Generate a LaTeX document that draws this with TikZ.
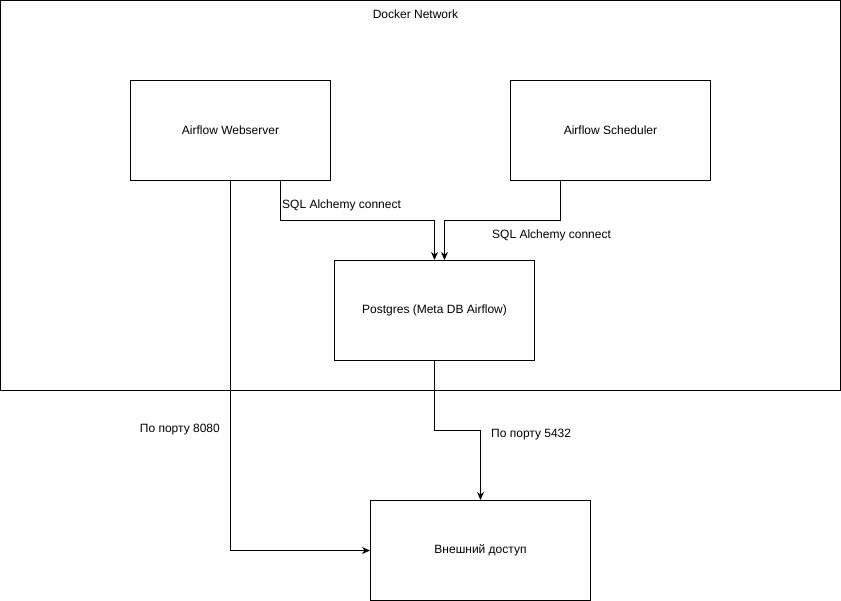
\documentclass[tikz,border=0pt]{standalone}
\usepackage{fontspec}
\setmainfont{Liberation Sans}
\usetikzlibrary{calc,arrows.meta}
\begin{document}
\begin{tikzpicture}[x=1pt,y=-1pt,
  every node/.style={font=\fontsize{12}{14}\selectfont, text=black},
  box/.style={draw, line width=1pt, minimum width=200pt, minimum height=100pt, inner sep=0pt},
  conn/.style={line width=1pt, -{Stealth[length=8pt,width=7pt,inset=2.5pt]}},
  lbl/.style={inner sep=0pt}]
\useasboundingbox (0,0) rectangle (841,601);
\node[draw, line width=1pt, minimum width=840pt, minimum height=390pt, inner sep=0pt] (net) at (420.5,195.5) {};
\node[lbl] (netlbl) at (415.5,14.5) {Docker Network};
\node[box] (web) at (230.5,130.5) {Airflow Webserver};
\node[box] (sch) at (610.5,130.5) {Airflow Scheduler};
\node[box] (pg) at (434.5,310.5) {Postgres (Meta DB Airflow)};
\node[box, minimum width=220pt] (ext) at (480.5,550.5) {Внешний доступ};
\coordinate (webr) at ($(web.south west)!0.75!(web.south east)$);
\coordinate (schl) at ($(sch.south west)!0.25!(sch.south east)$);
\coordinate (pgn2) at ($(pg.north)+(10,0)$);
\draw[conn] (webr) -- ++(0,40) -| (pg.north);
\draw[conn] (schl) -- ++(0,40) -| (pgn2);
\draw[conn] (web.south) |- (ext.west);
\draw[conn] (pg.south) -- ++(0,70) -| (ext.north);
\node[lbl, anchor=west] (l1) at (282,205) {SQL Alchemy connect};
\node[lbl, anchor=west] (l2) at (492,235) {SQL Alchemy connect};
\node[lbl, anchor=east] (l3) at (220,430) {По порту 8080};
\node[lbl, anchor=west] (l4) at (491,435) {По порту 5432};
\end{tikzpicture}
\end{document}
